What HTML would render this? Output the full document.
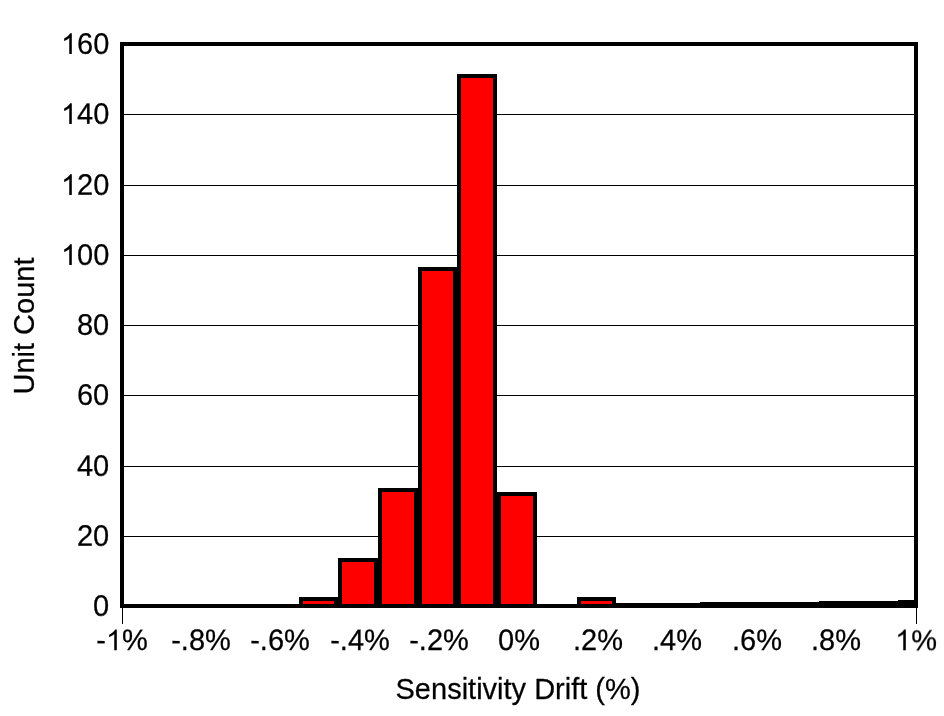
<!DOCTYPE html>
<html><head><meta charset="utf-8"><title>Sensitivity Drift Histogram</title>
<style>
html,body{margin:0;padding:0;background:#fff;}
body{width:944px;height:716px;position:relative;overflow:hidden;font-family:"Liberation Sans",sans-serif;font-size:29px;color:#000;}
#c{position:absolute;left:0;top:0;width:944px;height:716px;will-change:transform;}
#c div{position:absolute;}
.g1{display:inline-block;vertical-align:baseline;fill:#000;overflow:visible;}
#c span{-webkit-text-stroke:0.25px #000;position:absolute;white-space:nowrap;line-height:40px;height:40px;}
.yl{right:834.5px;text-align:right;transform:translateY(0.5px) scaleY(1.02) rotate(0.03deg);transform-origin:50% 50%;}
.xl{width:120px;text-align:center;top:619.8px;transform:translateY(-0.3px) scaleY(1.02) rotate(0.03deg);transform-origin:50% 50%;}
.xt{left:318px;width:400px;text-align:center;top:669px;transform:scaleY(1.03) rotate(0.02deg);transform-origin:50% 72%;}
.yt{left:-177px;top:306px;width:400px;text-align:center;transform:translateX(0.6px) rotate(-90deg) scaleY(1.03);transform-origin:50% 50%;}
</style></head><body><div id="c">
<div style="left:124px;top:114px;width:790px;height:1px;background:#000"></div>
<div style="left:124px;top:185px;width:790px;height:1px;background:#000"></div>
<div style="left:124px;top:255px;width:790px;height:1px;background:#000"></div>
<div style="left:124px;top:325px;width:790px;height:1px;background:#000"></div>
<div style="left:124px;top:395px;width:790px;height:1px;background:#000"></div>
<div style="left:124px;top:466px;width:790px;height:1px;background:#000"></div>
<div style="left:124px;top:536px;width:790px;height:1px;background:#000"></div>
<div style="left:120px;top:42px;width:798px;height:4px;background:#000"></div>
<div style="left:120px;top:42px;width:4px;height:566px;background:#000"></div>
<div style="left:914px;top:42px;width:4px;height:566px;background:#000"></div>
<div style="left:120px;top:604px;width:798px;height:4px;background:#000"></div>
<div style="left:122px;top:608px;width:1px;height:16px;background:#000"></div>
<div style="left:916px;top:608px;width:1px;height:16px;background:#000"></div>
<div style="left:299px;top:597px;width:39px;height:11px;background:#000"></div>
<div style="left:303px;top:601px;width:31px;height:3px;background:#ff0000"></div>
<div style="left:338px;top:558px;width:40px;height:50px;background:#000"></div>
<div style="left:342px;top:562px;width:32px;height:42px;background:#ff0000"></div>
<div style="left:378px;top:488px;width:40px;height:120px;background:#000"></div>
<div style="left:382px;top:492px;width:32px;height:112px;background:#ff0000"></div>
<div style="left:418px;top:267px;width:39px;height:341px;background:#000"></div>
<div style="left:422px;top:271px;width:31px;height:333px;background:#ff0000"></div>
<div style="left:457px;top:74px;width:40px;height:534px;background:#000"></div>
<div style="left:461px;top:78px;width:32px;height:526px;background:#ff0000"></div>
<div style="left:497px;top:492px;width:40px;height:116px;background:#000"></div>
<div style="left:501px;top:496px;width:32px;height:108px;background:#ff0000"></div>
<div style="left:577px;top:597px;width:39px;height:11px;background:#000"></div>
<div style="left:581px;top:601px;width:31px;height:3px;background:#ff0000"></div>
<div style="left:616px;top:603px;width:298px;height:1px;background:#000"></div>
<div style="left:700px;top:602px;width:214px;height:1px;background:#000"></div>
<div style="left:819px;top:601px;width:95px;height:1px;background:#000"></div>
<div style="left:898px;top:600px;width:16px;height:1px;background:#000"></div>
<span class="yl" style="top:23.2px"><svg class="g1" style="width:0.5562em;height:0.7047em" viewBox="0 0 1139 1472" preserveAspectRatio="none"><path d="M763 1472H583V325Q518 387 412.5 449Q307 511 223 542V368Q374 297 487 196Q600 95 647 0H763Z"/></svg>60</span>
<span class="yl" style="top:93.2px"><svg class="g1" style="width:0.5562em;height:0.7047em" viewBox="0 0 1139 1472" preserveAspectRatio="none"><path d="M763 1472H583V325Q518 387 412.5 449Q307 511 223 542V368Q374 297 487 196Q600 95 647 0H763Z"/></svg>40</span>
<span class="yl" style="top:164.2px"><svg class="g1" style="width:0.5562em;height:0.7047em" viewBox="0 0 1139 1472" preserveAspectRatio="none"><path d="M763 1472H583V325Q518 387 412.5 449Q307 511 223 542V368Q374 297 487 196Q600 95 647 0H763Z"/></svg>20</span>
<span class="yl" style="top:234.2px"><svg class="g1" style="width:0.5562em;height:0.7047em" viewBox="0 0 1139 1472" preserveAspectRatio="none"><path d="M763 1472H583V325Q518 387 412.5 449Q307 511 223 542V368Q374 297 487 196Q600 95 647 0H763Z"/></svg>00</span>
<span class="yl" style="top:304.2px">80</span>
<span class="yl" style="top:374.2px">60</span>
<span class="yl" style="top:445.2px">40</span>
<span class="yl" style="top:515.2px">20</span>
<span class="yl" style="top:585.2px">0</span>
<span class="xl" style="left:61.6px">-<svg class="g1" style="width:0.5562em;height:0.7047em" viewBox="0 0 1139 1472" preserveAspectRatio="none"><path d="M763 1472H583V325Q518 387 412.5 449Q307 511 223 542V368Q374 297 487 196Q600 95 647 0H763Z"/></svg>%</span>
<span class="xl" style="left:141.0px">-.8%</span>
<span class="xl" style="left:220.4px">-.6%</span>
<span class="xl" style="left:299.8px">-.4%</span>
<span class="xl" style="left:379.2px">-.2%</span>
<span class="xl" style="left:458.6px">0%</span>
<span class="xl" style="left:538.0px">.2%</span>
<span class="xl" style="left:617.4px">.4%</span>
<span class="xl" style="left:696.8px">.6%</span>
<span class="xl" style="left:776.2px">.8%</span>
<span class="xl" style="left:855.6px"><svg class="g1" style="width:0.5562em;height:0.7047em" viewBox="0 0 1139 1472" preserveAspectRatio="none"><path d="M763 1472H583V325Q518 387 412.5 449Q307 511 223 542V368Q374 297 487 196Q600 95 647 0H763Z"/></svg>%</span>
<span class="xt">Sensitivity Drift (%)</span>
<span class="yt">Unit Count</span>
</div></body></html>
